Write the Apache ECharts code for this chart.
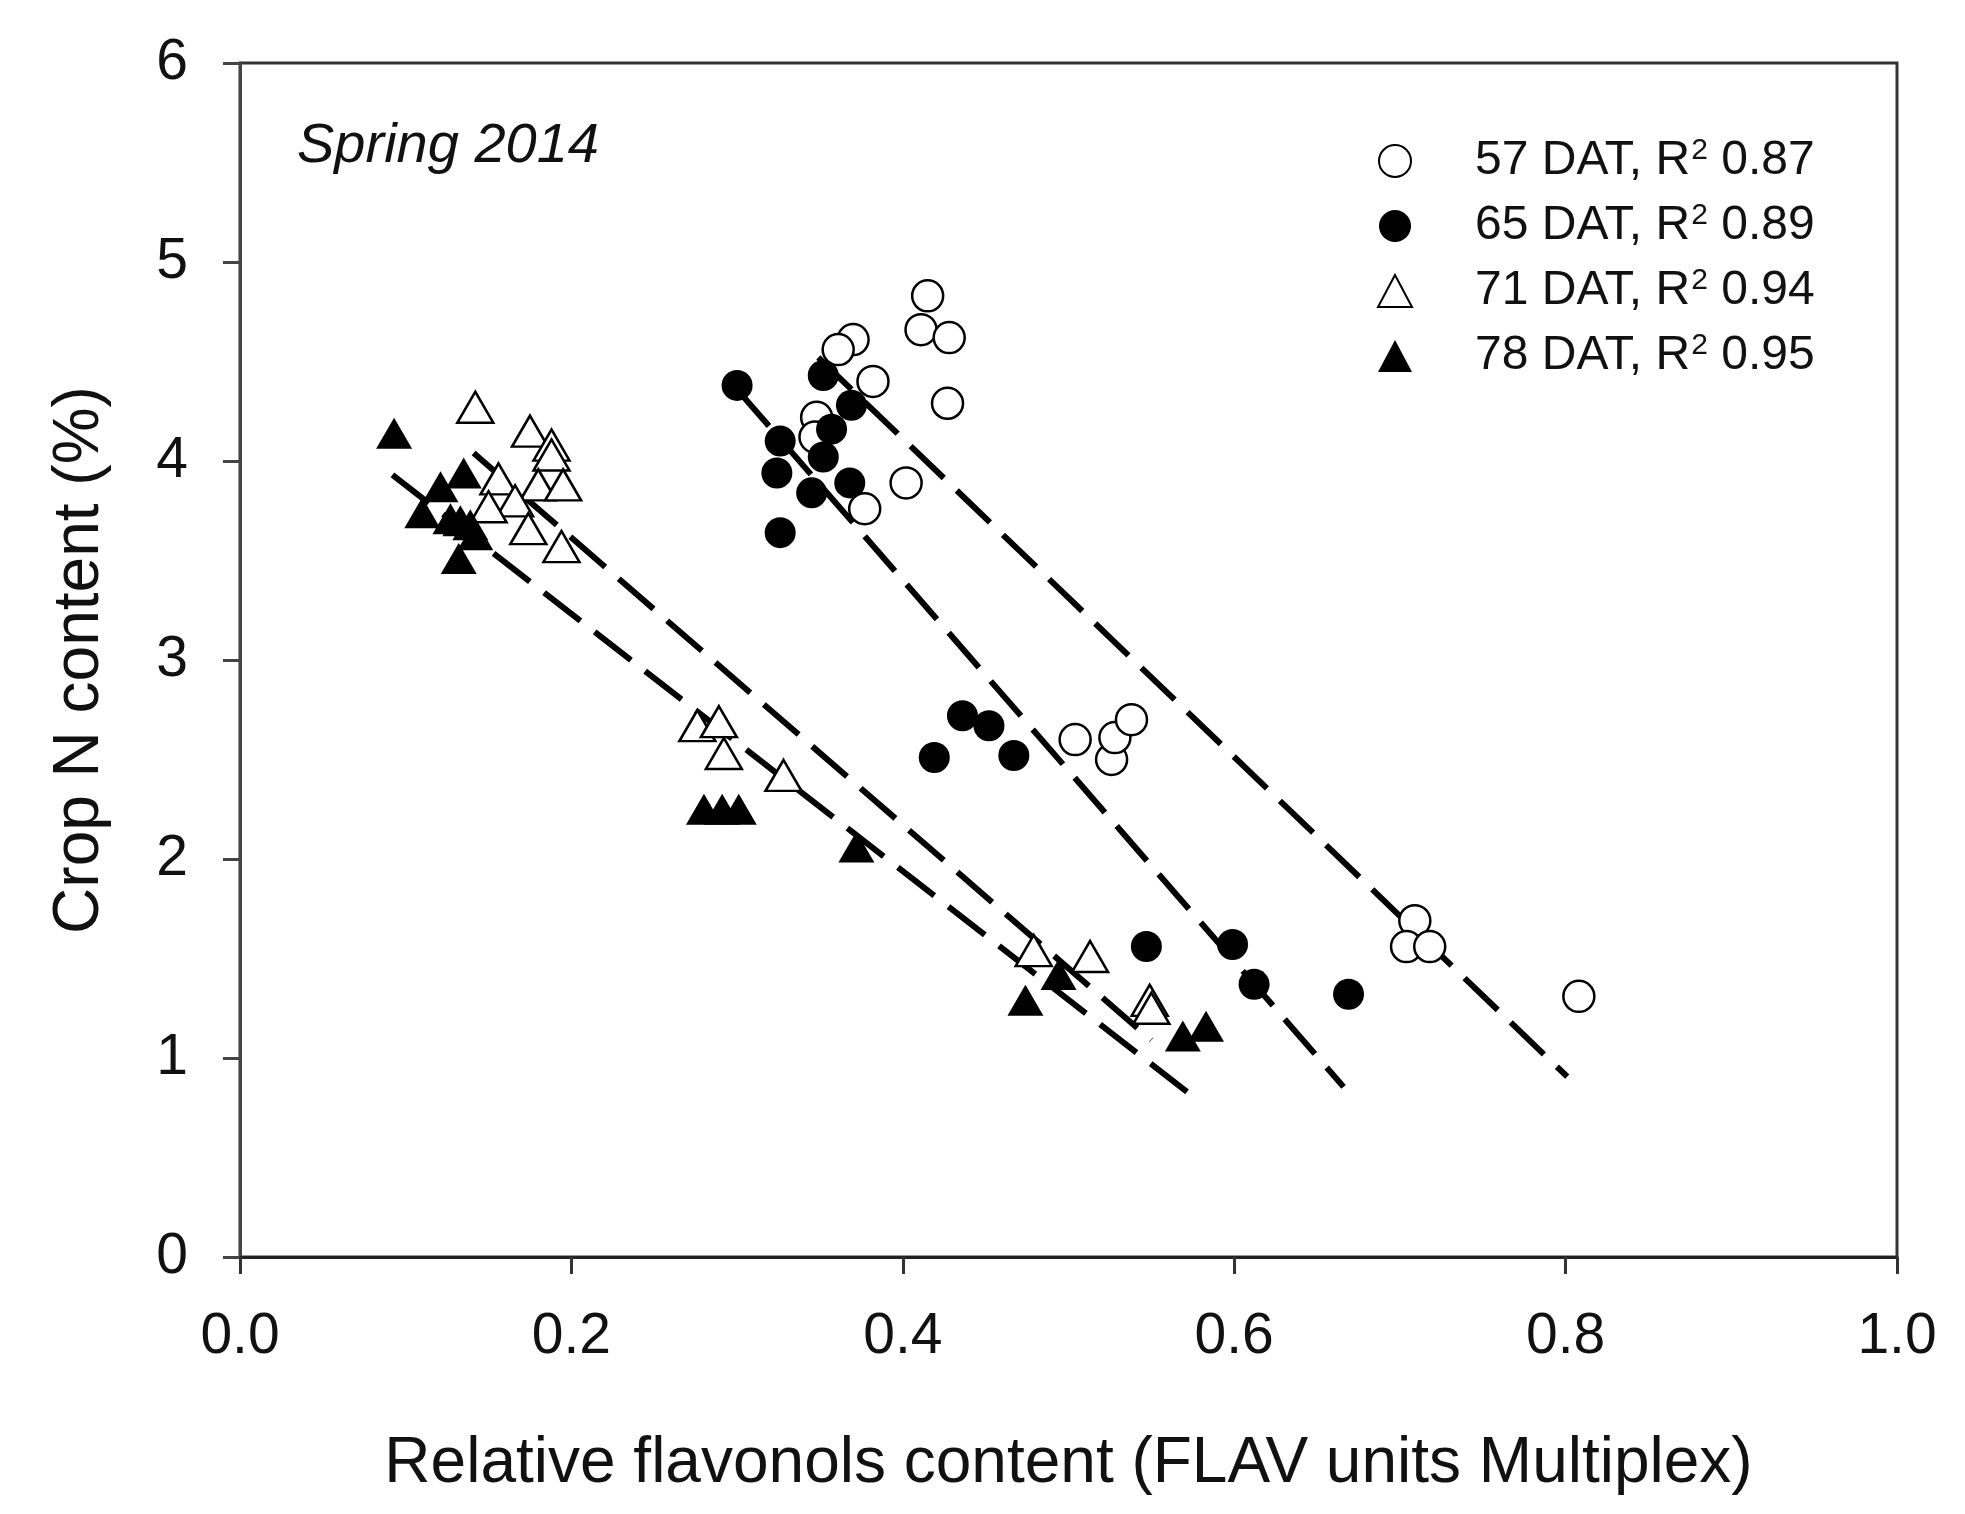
<!DOCTYPE html>
<html>
<head>
<meta charset="utf-8">
<script src="https://cdn.jsdelivr.net/npm/echarts@6/dist/echarts.min.js"></script>
<style>
html,body{margin:0;padding:0;background:#fff;}
#chart{width:1965px;height:1514px;}
</style>
</head>
<body>
<div id="chart"></div>
<script>
// ---- data ----
const seriesNames = ['57 DAT', '65 DAT', '71 DAT', '78 DAT'];
const r2Values = ['0.87', '0.89', '0.94', '0.95'];

const x57 = [0.415,0.411,0.428,0.370,0.361,0.382,0.427,0.348,0.347,0.402,0.377,0.504,0.526,0.528,0.538,0.709,0.704,0.718,0.808];
const y57 = [4.83,4.66,4.62,4.61,4.56,4.40,4.29,4.22,4.12,3.89,3.76,2.60,2.50,2.61,2.70,1.69,1.56,1.56,1.31];

const x65 = [0.300,0.352,0.369,0.326,0.357,0.324,0.352,0.345,0.368,0.326,0.436,0.452,0.419,0.467,0.547,0.599,0.612,0.669];
const y65 = [4.38,4.43,4.28,4.10,4.16,3.94,4.02,3.84,3.89,3.64,2.72,2.67,2.51,2.52,1.56,1.57,1.37,1.32];

const x71 = [0.142,0.175,0.188,0.188,0.156,0.180,0.195,0.166,0.150,0.174,0.194,0.276,0.289,0.292,0.328,0.479,0.513,0.549,0.550];
const y71 = [4.27,4.15,4.08,4.03,3.91,3.88,3.88,3.80,3.77,3.66,3.57,2.67,2.69,2.53,2.42,1.54,1.51,1.29,1.25];

const x78 = [0.093,0.135,0.121,0.110,0.133,0.142,0.132,0.127,0.139,0.280,0.291,0.301,0.372,0.474,0.494,0.569,0.583];
const y78 = [4.14,3.94,3.87,3.74,3.70,3.63,3.51,3.71,3.68,2.25,2.25,2.25,2.06,1.29,1.42,1.11,1.16];

// regression line end points [x, y]
const fit57 = [[0.349, 4.52], [0.801, 0.906]];
const fit65 = [[0.301, 4.35], [0.666, 0.855]];
const fit71 = [[0.141, 4.04], [0.550, 1.09]];
const fit78 = [[0.092, 3.93], [0.573, 0.82]];

const xTicks = [0.0, 0.2, 0.4, 0.6, 0.8, 1.0];
const yTicks = [0, 1, 2, 3, 4, 5, 6];
const annotation = 'Spring 2014';
const xTitle = 'Relative flavonols content (FLAV units Multiplex)';
const yTitle = 'Crop N content (%)';

// ---- build ----
const FONT = '"Liberation Sans", Arial, sans-serif';
const zip = (xs, ys) => xs.map((v, i) => [v, ys[i]]);

const markerStyles = [
  { symbol: 'circle', size: 31, item: { color: '#fff', borderColor: '#000', borderWidth: 2.5, opacity: 1 } },
  { symbol: 'circle', size: 31, item: { color: '#000', borderColor: '#000', borderWidth: 0, opacity: 1 } },
  { symbol: 'triangle', size: [36, 31], item: { color: '#fff', borderColor: '#000', borderWidth: 2.5, opacity: 1 } },
  { symbol: 'triangle', size: [36, 31], item: { color: '#000', borderColor: '#000', borderWidth: 0, opacity: 1 } }
];
const pointSets = [zip(x57, y57), zip(x65, y65), zip(x71, y71), zip(x78, y78)];
const fits = [fit57, fit65, fit71, fit78];

const series = [];
fits.forEach((f, i) => {
  series.push({
    name: 'fit ' + seriesNames[i],
    type: 'line',
    data: f,
    showSymbol: false,
    silent: true,
    z: 1,
    lineStyle: { color: '#000', width: 6, type: [46, 18], opacity: 1 }
  });
});
pointSets.forEach((pts, i) => {
  const m = markerStyles[i];
  series.push({
    name: seriesNames[i],
    type: 'scatter',
    data: pts,
    symbol: m.symbol,
    symbolSize: m.size,
    z: 3,
    itemStyle: m.item
  });
});

const chart = echarts.init(document.getElementById('chart'), null, { renderer: 'canvas' });
chart.setOption({
  backgroundColor: '#fff',
  animation: false,
  grid: {
    left: 240, top: 63, right: 68, bottom: 257,
    show: true, borderColor: '#333', borderWidth: 3, backgroundColor: 'transparent'
  },
  xAxis: {
    type: 'value', min: 0, max: 1, interval: 0.2,
    name: xTitle, nameLocation: 'middle', nameGap: 175,
    nameTextStyle: { fontFamily: FONT, fontSize: 64, color: '#111' },
    axisLine: { show: true, lineStyle: { color: '#222', width: 3 } },
    axisTick: { show: true, inside: false, length: 17, lineStyle: { color: '#333', width: 3 } },
    axisLabel: {
      margin: 52, fontFamily: FONT, fontSize: 57, color: '#111',
      formatter: v => { const t = xTicks.find(k => Math.abs(k - v) < 1e-9); return (t !== undefined ? t : v).toFixed(1); }
    },
    splitLine: { show: false }
  },
  yAxis: {
    type: 'value', min: 0, max: 6, interval: 1,
    name: yTitle, nameLocation: 'middle', nameGap: 128, nameRotate: 90,
    nameTextStyle: { fontFamily: FONT, fontSize: 64, color: '#111' },
    axisLine: { show: true, lineStyle: { color: '#444', width: 3 } },
    axisTick: { show: true, inside: false, length: 17, lineStyle: { color: '#444', width: 3 } },
    axisLabel: {
      margin: 52, fontFamily: FONT, fontSize: 57, color: '#111',
      formatter: v => String(yTicks.find(k => Math.abs(k - v) < 1e-9) ?? v)
    },
    splitLine: { show: false }
  },
  legend: {
    data: seriesNames,
    orient: 'vertical',
    left: 1372, top: 131,
    itemWidth: 34, itemHeight: 32,
    itemGap: 16,
    padding: 5,
    selectedMode: false,
    formatter: name => {
      const i = seriesNames.indexOf(name);
      return '{sp| }{a|' + name + ', R}{sup|2}{a| ' + r2Values[i] + '}';
    },
    textStyle: {
      fontFamily: FONT, fontSize: 48, color: '#111',
      rich: {
        sp: { width: 58, fontSize: 48, lineHeight: 50 },
        a: { fontFamily: FONT, fontSize: 48, color: '#111', lineHeight: 50 },
        sup: { fontFamily: FONT, fontSize: 30, color: '#111', lineHeight: 50, verticalAlign: 'top', padding: [0, 0, 8, 1] }
      }
    }
  },
  graphic: [{
    type: 'text',
    left: 297, top: 118,
    z: 10,
    style: { text: annotation, font: 'italic 56px ' + FONT, fill: '#111' }
  }],
  series: series
});
</script>
</body>
</html>
